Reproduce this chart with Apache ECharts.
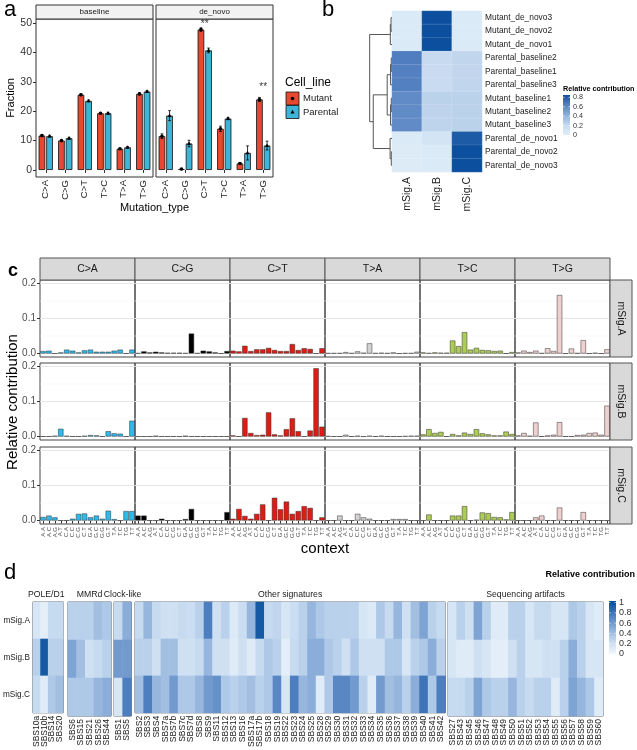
<!DOCTYPE html>
<html><head><meta charset="utf-8">
<script src="https://cdn.jsdelivr.net/npm/echarts@6/dist/echarts.min.js"></script>
<style>html,body{margin:0;padding:0;background:#fff}#c{width:637px;height:750px}</style>
</head><body><div id="c"></div>
<script>
const FONT = 'Liberation Sans, Arial, Helvetica, sans-serif';

// ---------------- Panel a data ----------------
const mutTypesA = ['C>A','C>G','C>T','T>C','T>A','T>G'];
const facetsA = ['baseline','de_novo'];
const cellLines = ['Mutant','Parental'];
const baselineMutant   = [11.7,10.0,25.6,19.3,7.2,25.9];
const baselineParental = [11.5,10.8,23.5,19.3,7.7,26.7];
const denovoMutant     = [11.5,0.3,47.8,14.0,2.2,24.0];
const denovoParental   = [18.5,9.0,40.7,17.5,5.8,8.3];
const baselineMutantSd   = [0.3,0.2,0.3,0.2,0.2,0.3];
const baselineParentalSd = [0.3,0.3,0.3,0.3,0.3,0.3];
const denovoMutantSd     = [0.8,0.2,0.6,0.9,0.3,0.7];
const denovoParentalSd   = [1.7,1.1,0.8,0.4,2.4,1.5];
const yTicksA = [0,10,20,30,40,50];
const signifCats = ['C>T','T>G'];
const signifY = [49.6, 28.2];

// ---------------- Panel b data ----------------
const bRows = ['Mutant_de_novo3','Mutant_de_novo2','Mutant_de_novo1','Parental_baseline2','Parental_baseline1','Parental_baseline3','Mutant_baseline1','Mutant_baseline2','Mutant_baseline3','Parental_de_novo1','Parental_de_novo2','Parental_de_novo3'];
const bSigs = ['mSig.A','mSig.B','mSig.C'];
const bSigA = [0.05,0.05,0.05,0.66,0.65,0.65,0.60,0.60,0.60,0.05,0.04,0.04];
const bSigB = [0.90,0.90,0.90,0.20,0.19,0.19,0.25,0.24,0.24,0.11,0.05,0.05];
const bSigC = [0.05,0.05,0.05,0.23,0.23,0.23,0.25,0.25,0.25,0.80,0.90,0.90];
// dendrogram merges: [childA, childB, height]; numbers = leaf rows, 'mK' = merge K
const bMerges = [[0,1,0.04],['m0',2,0.07],[3,4,0.03],['m2',5,0.06],[6,7,0.03],['m4',8,0.06],['m3','m5',0.2],[10,11,0.03],[9,'m7',0.08],['m6','m8',0.78],['m1','m9',0.93]];
const bLegendTicks = [0,0.2,0.4,0.6,0.8];

// ---------------- Panel c data ----------------
const cTypes = ['C>A','C>G','C>T','T>A','T>C','T>G'];
const cColors = ['#2EBAED','#000000','#DE1C14','#D4D2D2','#ADCC54','#F0D0CE'];
const cContexts = ['A.A','A.C','A.G','A.T','C.A','C.C','C.G','C.T','G.A','G.C','G.G','G.T','T.A','T.C','T.G','T.T'];
const cSigs = ['mSig.A','mSig.B','mSig.C'];
const cSigA = [
 0.007,0.008,0,0.003,0.011,0.008,0.003,0.009,0.011,0.005,0.005,0.005,0.008,0.011,0,0.011,
 0.001,0.006,0.003,0.005,0.003,0.002,0.002,0.002,0.001,0.057,0.001,0.008,0.006,0.003,0,0.007,
 0.008,0.006,0.022,0.007,0.012,0.012,0.016,0.010,0.007,0.007,0.027,0.010,0.015,0.013,0,0.015,
 0.001,0.001,0.001,0.004,0.001,0.006,0.002,0.029,0.001,0.002,0.001,0.003,0,0.001,0.001,0.005,
 0.003,0.001,0.003,0.002,0.002,0.037,0.021,0.061,0.011,0.016,0.010,0.009,0.007,0.008,0,0.004,
 0.003,0.008,0.004,0.008,0.001,0.015,0.007,0.167,0,0.014,0.001,0.038,0,0.002,0,0.012];
const cSigB = [
 0,0,0.002,0.022,0.002,0,0,0.002,0.004,0.003,0,0.015,0.009,0.008,0,0.045,
 0,0,0,0.002,0,0,0,0,0.002,0,0,0,0,0,0,0,
 0.003,0,0.053,0.010,0.004,0.005,0.069,0.006,0.003,0.021,0.052,0.015,0,0.017,0.195,0.028,
 0.001,0,0,0.005,0,0.002,0,0.002,0,0.002,0,0,0,0.001,0.002,0.002,
 0.006,0.021,0.010,0.013,0,0.007,0.003,0.011,0.007,0.021,0.009,0.006,0.003,0.003,0.014,0.007,
 0.003,0.010,0.002,0.040,0,0.003,0.005,0.041,0,0,0.004,0.005,0.010,0.011,0.005,0.088];
const cSigC = [
 0.010,0.014,0.009,0,0,0.005,0.019,0.020,0.009,0.014,0.005,0.028,0.004,0,0.027,0.027,
 0.014,0.014,0,0,0.005,0,0,0,0.004,0.033,0,0,0,0,0,0.024,
 0.005,0.033,0.013,0.005,0.019,0.046,0,0.065,0.032,0.054,0.019,0.027,0.041,0.036,0,0.009,
 0,0,0.014,0,0,0.019,0.009,0.005,0,0,0,0.004,0.004,0.004,0,0,
 0,0.017,0,0,0,0.014,0.014,0.041,0,0.002,0.023,0.021,0.010,0.009,0.003,0.024,
 0,0,0,0.009,0.014,0,0,0.037,0,0,0,0.024,0,0,0,0];
const cYTicks = [0,0.1,0.2];
const cGridVals = [0,0.05,0.1,0.15,0.2];

// ---------------- Panel d data ----------------
const dBlocks = ['POLE/D1','MMRd','Clock-like','Other signatures','Sequencing artifacts'];
const dBlockCols = [
 ['SBS10a','SBS10b','SBS14','SBS20'],
 ['SBS6','SBS15','SBS21','SBS26','SBS44'],
 ['SBS1','SBS5'],
 ['SBS2','SBS3','SBS4','SBS7a','SBS7b','SBS7c','SBS7d','SBS8','SBS9','SBS11','SBS12','SBS13','SBS16','SBS17a','SBS17b','SBS18','SBS19','SBS22','SBS23','SBS24','SBS25','SBS28','SBS29','SBS30','SBS31','SBS32','SBS33','SBS34','SBS35','SBS36','SBS37','SBS38','SBS39','SBS40','SBS41','SBS42'],
 ['SBS27','SBS43','SBS45','SBS46','SBS47','SBS48','SBS49','SBS50','SBS51','SBS52','SBS53','SBS54','SBS55','SBS56','SBS57','SBS58','SBS59','SBS60']];
const dSigs = ['mSig.A','mSig.B','mSig.C'];
const dSigA = [0.15,0.08,0.25,0.25, 0.30,0.30,0.30,0.40,0.35, 0.25,0.50,
 0.25,0.45,0.25,0.20,0.20,0.25,0.22,0.30,0.75,0.20,0.30,0.12,0.22,0.45,0.95,0.25,0.27,0.15,0.22,0.30,0.45,0.35,0.30,0.30,0.30,0.30,0.15,0.12,0.35,0.25,0.45,0.20,0.40,0.55,0.30,0.25,
 0.15,0.30,0.20,0.55,0.30,0.10,0.10,0.30,0.30,0.15,0.25,0.25,0.15,0.15,0.35,0.30,0.15,0.10];
const dSigB = [0.30,0.95,0.30,0.30, 0.55,0.40,0.20,0.25,0.30, 0.60,0.60,
 0.30,0.30,0.20,0.40,0.40,0.20,0.20,0.25,0.45,0.20,0.20,0.10,0.20,0.10,0.25,0.35,0.30,0.08,0.25,0.30,0.50,0.50,0.35,0.30,0.20,0.35,0.20,0.20,0.20,0.35,0.35,0.15,0.30,0.35,0.50,0.30,
 0.15,0.10,0.10,0.20,0.15,0.08,0.08,0.20,0.30,0.15,0.15,0.20,0.20,0.30,0.50,0.30,0.15,0.15];
const dSigC = [0.25,0.10,0.35,0.40, 0.35,0.35,0.35,0.45,0.50, 0.15,0.75,
 0.40,0.75,0.45,0.40,0.60,0.35,0.35,0.45,0.60,0.65,0.35,0.30,0.35,0.40,0.30,0.35,0.70,0.15,0.75,0.45,0.50,0.10,0.35,0.70,0.70,0.60,0.30,0.10,0.60,0.40,0.45,0.30,0.50,0.80,0.35,0.75,
 0.25,0.25,0.30,0.55,0.35,0.30,0.30,0.45,0.30,0.25,0.30,0.30,0.10,0.30,0.55,0.45,0.35,0.10];
const dLegendTicks = [0,0.2,0.4,0.6,0.8,1];

// ---------------- Build ----------------
const grids=[], xAxes=[], yAxes=[], series=[], graphics=[], visualMaps=[];
function addGrid(g, x, y){
  grids.push(Object.assign({containLabel:false}, g));
  const gi = grids.length-1;
  x.gridIndex = gi; y.gridIndex = gi; xAxes.push(x); yAxes.push(y); return gi;
}
function txt(x,y,text,o){
  o=o||{};
  graphics.push({type:'text', x:x, y:y, rotation:o.rot||0, z:100, silent:true,
    style:{text:text, fill:o.color||'#000', font:(o.weight||'normal')+' '+(o.size||10)+'px '+FONT,
      align:o.align||'left', verticalAlign:o.va||'middle'}});
}
function rect(x,y,w,h,fill,stroke,lw){
  graphics.push({type:'rect', z:90, silent:true, shape:{x:x,y:y,width:w,height:h}, style:{fill:fill, stroke:stroke||null, lineWidth:lw||1}});
}

// ===== Panel a =====
const aTop=19, aH=158, aLefts=[36,156], aW=117;
const aRed='#E8482F', aBlue='#3DB5D7';
const aSets=[[baselineMutant,baselineParental,baselineMutantSd,baselineParentalSd],[denovoMutant,denovoParental,denovoMutantSd,denovoParentalSd]];
function errRender(params, api){
  const cat=api.value(0), m=api.value(1), sd=api.value(2), side=api.value(3);
  const w=api.size([1,0])[0];
  const x=api.coord([cat,m])[0]+side*w*0.195;
  const yt=api.coord([cat,m+sd])[1], yb=api.coord([cat,Math.max(m-sd,0)])[1], ym=api.coord([cat,m])[1];
  const cap=w*0.07, st={stroke:'#000',lineWidth:0.8};
  const kids=[
    {type:'line',shape:{x1:x,y1:yt,x2:x,y2:yb},style:st},
    {type:'line',shape:{x1:x-cap,y1:yt,x2:x+cap,y2:yt},style:st},
    {type:'line',shape:{x1:x-cap,y1:yb,x2:x+cap,y2:yb},style:st}];
  if(side<0) kids.push({type:'circle',shape:{cx:x,cy:ym,r:1.8},style:{fill:'#000'}});
  else kids.push({type:'polygon',shape:{points:[[x,ym-2.2],[x-2,ym+1.4],[x+2,ym+1.4]]},style:{fill:'#000'}});
  return {type:'group',children:kids};
}
facetsA.forEach((f,k)=>{
  const gi=addGrid({left:aLefts[k],top:aTop,width:aW,height:aH,show:true,borderColor:'#333',borderWidth:1},
    {type:'category',data:mutTypesA,axisLine:{show:false},
     axisTick:{show:true,alignWithLabel:true,length:3,lineStyle:{color:'#333'}},
     axisLabel:{interval:0,rotate:90,fontSize:9.5,color:'#222',margin:3,fontFamily:FONT}},
    {type:'value',min:-2.4,max:51.4,axisLine:{show:false},splitLine:{show:false},
     axisTick:{show:k===0,length:3,customValues:yTicksA,lineStyle:{color:'#333'}},
     axisLabel:{show:k===0,customValues:yTicksA,fontSize:10.5,color:'#333',margin:4,fontFamily:FONT},
     name:k===0?'Fraction':'',nameLocation:'middle',nameGap:20,nameRotate:90,nameTextStyle:{fontSize:11,color:'#000',fontFamily:FONT}});
  const s=aSets[k];
  series.push({type:'bar',name:cellLines[0],xAxisIndex:gi,yAxisIndex:gi,data:s[0],barWidth:'34%',barGap:'15%',itemStyle:{color:aRed,borderColor:'#111',borderWidth:0.8},z:2});
  series.push({type:'bar',name:cellLines[1],xAxisIndex:gi,yAxisIndex:gi,data:s[1],barWidth:'34%',barGap:'15%',itemStyle:{color:aBlue,borderColor:'#111',borderWidth:0.8},z:2});
  series.push({type:'custom',xAxisIndex:gi,yAxisIndex:gi,renderItem:errRender,encode:{x:0,y:1},z:3,
    data:mutTypesA.map((c,i)=>[i,s[0][i],s[2][i],-1])});
  series.push({type:'custom',xAxisIndex:gi,yAxisIndex:gi,renderItem:errRender,encode:{x:0,y:1},z:3,
    data:mutTypesA.map((c,i)=>[i,s[1][i],s[3][i],1])});
  if(k===1){
    series.push({type:'scatter',xAxisIndex:gi,yAxisIndex:gi,symbolSize:1,itemStyle:{color:'rgba(0,0,0,0)'},z:4,
      data:signifCats.map((c,i)=>[mutTypesA.indexOf(c),signifY[i]]),
      label:{show:true,position:'inside',formatter:'**',fontSize:10,color:'#000',fontFamily:FONT}});
  }
  rect(aLefts[k],5,aW,14,'#f2f2f2','#333',1);
  txt(aLefts[k]+aW/2,12,f,{size:8,align:'center',color:'#1a1a1a'});
});
txt((aLefts[0]+aLefts[1]+aW)/2,208,'Mutation_type',{size:11,align:'center'});
txt(4,-1,'a',{size:22,va:'top'});
// legend a
txt(285,83,'Cell_line',{size:12});
rect(286,92,13,13,aRed,'#111',0.8);
graphics.push({type:'circle',z:95,silent:true,shape:{cx:292.5,cy:98.5,r:1.8},style:{fill:'#000'}});
rect(286,105.5,13,13,aBlue,'#111',0.8);
graphics.push({type:'polygon',z:95,silent:true,shape:{points:[[292.5,109.8],[290.5,113.5],[294.5,113.5]]},style:{fill:'#000'}});
txt(303,98.5,cellLines[0],{size:9.5,color:'#222'});
txt(303,112,cellLines[1],{size:9.5,color:'#222'});

// ===== Panel b =====
const bColors=['#e2eff9','#c5d9ef','#8fafd9','#5783c3','#0c4f9e'];
const bMax=0.85;
const gb=addGrid({left:392,top:11,width:90,height:161},
  {type:'category',data:bSigs,axisLine:{show:false},axisTick:{show:false},
   axisLabel:{interval:0,rotate:90,fontSize:10.5,color:'#222',margin:5,fontFamily:FONT}},
  {type:'category',data:bRows,inverse:true,position:'right',axisLine:{show:false},axisTick:{show:false},
   axisLabel:{interval:0,fontSize:8.4,color:'#222',margin:3,fontFamily:FONT}});
const bData=[];
bRows.forEach((r,i)=>{[bSigA,bSigB,bSigC].forEach((arr,j)=>bData.push([j,i,arr[i]]));});
series.push({type:'heatmap',xAxisIndex:gb,yAxisIndex:gb,data:bData,itemStyle:{borderColor:'rgba(255,255,255,0.25)',borderWidth:0.5}});
visualMaps.push({type:'continuous',show:false,seriesIndex:series.length-1,min:0,max:bMax,inRange:{color:bColors}});
// dendrogram
const gd=addGrid({left:368,top:11,width:24,height:161},
  {type:'value',min:0,max:1,inverse:true,show:false},
  {type:'value',min:-0.5,max:bRows.length-0.5,inverse:true,show:false});
const nodePos=[], nodeH=[], dendData=[];
function np(n){return typeof n==='number'?[n,0]:[nodePos[+n.slice(1)],nodeH[+n.slice(1)]];}
bMerges.forEach(m=>{
  const a=np(m[0]), b=np(m[1]);
  dendData.push([a[0],b[0],a[1],b[1],m[2]]);
  nodePos.push((a[0]+b[0])/2); nodeH.push(m[2]);
});
series.push({type:'custom',xAxisIndex:gd,yAxisIndex:gd,encode:{x:4,y:0},data:dendData,
  renderItem:(p,api)=>{
    const pa=api.value(0),pb=api.value(1),ha=api.value(2),hb=api.value(3),h=api.value(4);
    return {type:'polyline',shape:{points:[api.coord([ha,pa]),api.coord([h,pa]),api.coord([h,pb]),api.coord([hb,pb])]},
      style:{stroke:'#555',lineWidth:1,fill:null}};
  }});
txt(322,-1,'b',{size:22,va:'top'});
// legend b
(function(){
  const x=563,y=95,w=7,h=40;
  graphics.push({type:'rect',z:90,silent:true,shape:{x:x,y:y,width:w,height:h},
    style:{fill:{type:'linear',x:0,y:1,x2:0,y2:0,colorStops:bColors.map((c,i)=>({offset:i/(bColors.length-1),color:c}))}}});
  txt(x,89,'Relative contribution',{size:7.2,weight:'bold'});
  bLegendTicks.forEach(v=>{
    const yy=y+h-(v/bMax)*h;
    graphics.push({type:'line',z:95,silent:true,shape:{x1:x,y1:yy,x2:x+1.5,y2:yy},style:{stroke:'#fff',lineWidth:0.6}});
    graphics.push({type:'line',z:95,silent:true,shape:{x1:x+w-1.5,y1:yy,x2:x+w,y2:yy},style:{stroke:'#fff',lineWidth:0.6}});
    txt(x+w+3,yy,String(v),{size:7.2,color:'#333'});
  });
})();

// ===== Panel c =====
const cLeft=40, cW=95, cTops=[280,363,447], cH=77;
const cAll=[cSigA,cSigB,cSigC];
cSigs.forEach((sig,i)=>{
  cTypes.forEach((t,j)=>{
    const last=i===cSigs.length-1, first=j===0;
    const gi=addGrid({left:cLeft+cW*j,top:cTops[i],width:cW,height:cH,show:true,borderColor:'#444',borderWidth:1},
      {type:'category',data:cContexts,axisLine:{show:false},
       axisTick:{show:last,alignWithLabel:true,length:3,interval:0,lineStyle:{color:'#333'}},
       axisLabel:{show:last,interval:0,rotate:90,fontSize:6,color:'#4d4d4d',margin:3,fontFamily:FONT}},
      {type:'value',min:-0.01,max:0.21,axisLine:{show:false},splitLine:{show:false},
       axisTick:{show:first,length:3,customValues:cYTicks,lineStyle:{color:'#333'}},
       axisLabel:{show:first,customValues:cYTicks,formatter:v=>v.toFixed(1),fontSize:10,color:'#4d4d4d',margin:4,fontFamily:FONT}});
    series.push({type:'custom',xAxisIndex:gi,yAxisIndex:gi,encode:{x:0,y:1},z:1,silent:true,
      data:cGridVals.map(v=>[0,v]),
      renderItem:(p,api)=>{
        const v=api.value(1), cs=p.coordSys, y=api.coord([0,v])[1];
        const major=Math.abs(v*10-Math.round(v*10))<1e-6;
        return {type:'line',shape:{x1:cs.x,y1:y,x2:cs.x+cs.width,y2:y},style:{stroke:major?'#e3e3e3':'#f0f0f0',lineWidth:major?0.9:0.5}};
      }});
    series.push({type:'bar',xAxisIndex:gi,yAxisIndex:gi,z:2,barCategoryGap:'10%',
      data:cAll[i].slice(j*16,(j+1)*16),
      itemStyle:{color:cColors[j],borderColor:'#333',borderWidth:0.5}});
  });
  rect(cLeft+cW*cTypes.length,cTops[i],22,cH,'#d9d9d9','#555',1);
  txt(cLeft+cW*cTypes.length+11,cTops[i]+cH/2,sig,{size:10.5,align:'center',rot:-Math.PI/2,color:'#1a1a1a'});
});
cTypes.forEach((t,j)=>{
  rect(cLeft+cW*j,258,cW,22,'#d9d9d9','#555',1);
  txt(cLeft+cW*j+cW/2,269,t,{size:10.5,align:'center',color:'#1a1a1a'});
});
txt(8,262,'c',{size:18,weight:'bold',va:'top'});
txt(13,(cTops[0]+cTops[2]+cH)/2,'Relative contribution',{size:15,align:'center',rot:Math.PI/2});
txt(cLeft+cW*3,549,'context',{size:15,align:'center'});

// ===== Panel d =====
const dColors=['#f1f7fd','#c6daf0','#8aadd9','#4d7ebf','#08519c'];
const dLefts=[29,68,114,135,448], dCW=8.62, dTop=602, dH=114;
const dAll=[dSigA,dSigB,dSigC];
let off=0;
const dIdx=[];
dBlocks.forEach((b,k)=>{
  const cols=dBlockCols[k], w=cols.length*dCW;
  const gi=addGrid({left:dLefts[k],top:dTop,width:w,height:dH,show:true,borderColor:'#555',borderWidth:1},
    {type:'category',data:cols,axisLine:{show:false},axisTick:{show:false},
     axisLabel:{interval:0,rotate:90,fontSize:8.5,color:'#222',margin:3,fontFamily:FONT}},
    {type:'category',data:dSigs,inverse:true,axisLine:{show:false},axisTick:{show:false},
     axisLabel:{show:k===0,fontSize:8.2,color:'#222',margin:3,fontFamily:FONT}});
  const data=[];
  cols.forEach((c,ci)=>dSigs.forEach((s,si)=>data.push([ci,si,dAll[si][off+ci]])));
  off+=cols.length;
  series.push({type:'heatmap',xAxisIndex:gi,yAxisIndex:gi,data:data});
  dIdx.push(series.length-1);
  txt(dLefts[k]+w/2,595,b,{size:8.7,align:'center',color:'#1a1a1a'});
});
visualMaps.push({type:'continuous',show:false,seriesIndex:dIdx,min:0,max:1,inRange:{color:dColors}});
txt(4,562,'d',{size:22,va:'top'});
(function(){
  const x=609,y=601,w=7,h=53,max=1.03;
  graphics.push({type:'rect',z:90,silent:true,shape:{x:x,y:y,width:w,height:h},
    style:{fill:{type:'linear',x:0,y:1,x2:0,y2:0,colorStops:dColors.map((c,i)=>({offset:Math.min(1,i/(dColors.length-1)/max),color:c}))}}});
  txt(635,575,'Relative contribution',{size:9,weight:'bold',align:'right'});
  dLegendTicks.forEach(v=>{
    const yy=y+h-(v/max)*h;
    graphics.push({type:'line',z:95,silent:true,shape:{x1:x,y1:yy,x2:x+1.5,y2:yy},style:{stroke:'#fff',lineWidth:0.6}});
    graphics.push({type:'line',z:95,silent:true,shape:{x1:x+w-1.5,y1:yy,x2:x+w,y2:yy},style:{stroke:'#fff',lineWidth:0.6}});
    txt(x+w+3,yy,String(v),{size:9,color:'#333'});
  });
})();

const chart=echarts.init(document.getElementById('c'),null,{renderer:'canvas'});
chart.setOption({animation:false,textStyle:{fontFamily:FONT},grid:grids,xAxis:xAxes,yAxis:yAxes,series:series,visualMap:visualMaps,graphic:{elements:graphics}});
</script></body></html>
